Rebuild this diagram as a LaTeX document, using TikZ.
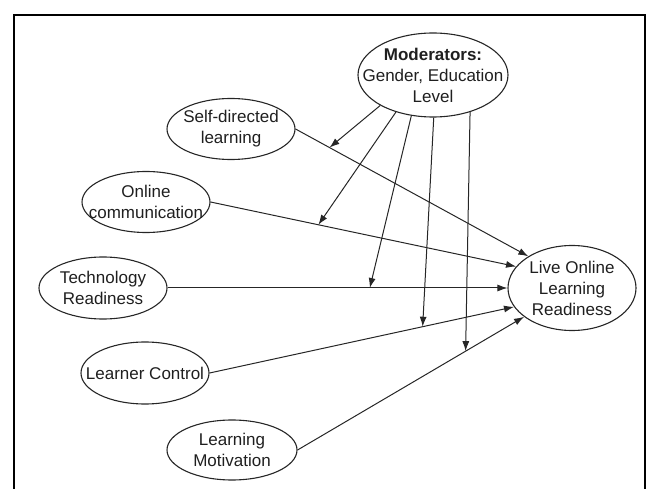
\documentclass[tikz,border=0pt]{standalone}
\usepackage{fontspec}
\setmainfont{Liberation Sans}
\usetikzlibrary{shapes.geometric,arrows.meta}
\begin{document}
\begin{tikzpicture}[x=1pt,y=-1pt,
  font=\fontsize{17}{21}\selectfont,
  var/.style={ellipse,draw=black!85,line width=1.1pt,minimum width=128pt,minimum height=61pt,inner sep=0pt},
  txt/.style={align=center,text=black!88},
  arr/.style={draw=black!85,line width=1pt,-{Latex[length=10pt,width=7pt]}},
  frameline/.style={draw=black,line width=1.4pt}]
\useasboundingbox (0,0) rectangle (659,489);
\draw[frameline] (14,489) -- (14,15) -- (645,15) -- (645,489);

\node[var,minimum width=150pt,minimum height=84pt] (mod) at (433,75) {};
\node[txt] (modt) at (433,75) {\textbf{Moderators:}\\Gender, Education\\Level};
\node[var] (sdl) at (231,129) {};
\node[txt] (sdlt) at (231,129) {Self-directed\\learning};
\node[var] (oc) at (146,202) {};
\node[txt] (oct) at (146,202) {Online\\communication};
\node[var,minimum height=62pt] (tr) at (103,288) {};
\node[txt] (trt) at (103,288) {Technology\\Readiness};
\node[var,minimum height=62pt] (lc) at (145,373) {};
\node[txt] (lct) at (145,373) {Learner Control};
\node[var,minimum width=130pt,minimum height=60pt] (lm) at (232,450) {};
\node[txt] (lmt) at (232,450) {Learning\\Motivation};
\node[var,minimum height=85pt] (live) at (572,288) {};
\node[txt] (livet) at (572,288) {Live Online\\Learning\\Readiness};

\draw[arr] (sdl.east) -- coordinate[pos=0.146] (m1) (live.144.8);
\draw[arr] (oc.east) -- coordinate[pos=0.353] (m2) (live.159.4);
\draw[arr] (tr.east) -- coordinate[pos=0.595] (m3) (live.west);
\draw[arr] (lc.east) -- coordinate[pos=0.70] (m4) (live.198.7);
\draw[arr] (lm.east) -- coordinate[pos=0.742] (m5) (live.211.1);

\draw[arr] (mod.210.8) -- (m1);
\draw[arr] (mod.225.8) -- (m2);
\draw[arr] (mod.242.3) -- (m3);
\draw[arr] (mod.271) -- (m4);
\draw[arr] (mod.315.7) -- (m5);
\end{tikzpicture}
\end{document}
